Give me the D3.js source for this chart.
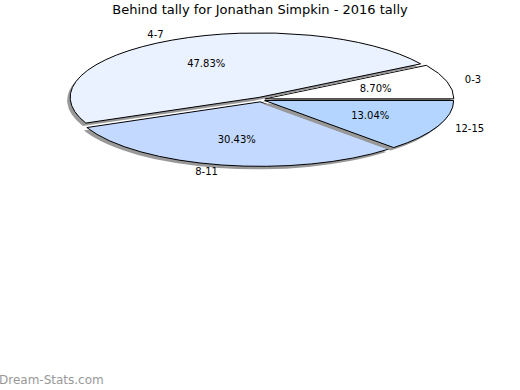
<!DOCTYPE html>
<html>
<head>
<meta charset="utf-8">
<script src="https://cdn.jsdelivr.net/npm/d3@7"></script>
<style>
  body { margin: 0; background: #fff; }
  text { font-family: "DejaVu Sans", sans-serif; }
</style>
</head>
<body>
<div id="chart"></div>
<script>
var labels = ["0-3", "4-7", "8-11", "12-15"];
var values = [2, 11, 7, 3];
var colors = ["#ffffff", "#eaf1ff", "#c4d9ff", "#b3d5ff"];

var width = 520, height = 390;
var cx = 261, cy = 99.5, rx = 189, ry = 64.5, explode = 4;

var svg = d3.select("#chart").append("svg")
  .attr("width", width)
  .attr("height", height);

svg.append("text")
  .attr("x", width / 2)
  .attr("y", 14)
  .attr("text-anchor", "middle")
  .style("font-size", "13px")
  .text("Behind tally for Jonathan Simpkin - 2016 tally");

var total = d3.sum(values);

// counter-clockwise from 3 o'clock
var pie = d3.pie()
  .sort(null)
  .startAngle(Math.PI / 2)
  .endAngle(Math.PI / 2 - 2 * Math.PI);

var arcs = pie(values);

var arc = d3.arc().innerRadius(0).outerRadius(rx);

function mid(d) { return (d.startAngle + d.endAngle) / 2; }

// explosion offset, flattened a bit vertically
function offset(d) {
  var a = mid(d);
  return [Math.sin(a) * explode, -Math.cos(a) * explode * 0.6];
}

var k = ry / rx;

function place(d, sx, sy) {
  var o = offset(d);
  return "translate(" + (cx + o[0] + sx) + "," + (cy + o[1] + sy) + ") scale(1," + k + ")";
}

// each slice: shadow then slice, so later shadows sit on earlier slices
var slice = svg.selectAll("g.slice")
  .data(arcs)
  .enter().append("g")
  .attr("class", "slice");

slice.append("path")
  .attr("d", arc)
  .attr("fill", "#999")
  .attr("transform", function(d) { return place(d, -3, 3); });

slice.append("path")
  .attr("d", arc)
  .attr("fill", function(d, i) { return colors[i]; })
  .attr("stroke", "#000")
  .attr("stroke-width", 1)
  .attr("vector-effect", "non-scaling-stroke")
  .attr("transform", function(d) { return place(d, 0, 0); });

// category labels outside
svg.selectAll("text.cat")
  .data(arcs)
  .enter().append("text")
  .attr("class", "cat")
  .attr("x", function(d) { return cx + Math.sin(mid(d)) * rx * 1.12; })
  .attr("y", function(d) { return cy - Math.cos(mid(d)) * ry * 1.14; })
  .attr("dy", "0.35em")
  .attr("text-anchor", function(d) { return Math.sin(mid(d)) > 0 ? "start" : "end"; })
  .style("font-size", "10px")
  .text(function(d, i) { return labels[i]; });

// percentages inside
svg.selectAll("text.pct")
  .data(arcs)
  .enter().append("text")
  .attr("class", "pct")
  .attr("x", function(d) { return cx + Math.sin(mid(d)) * rx * 0.63; })
  .attr("y", function(d) { return cy - Math.cos(mid(d)) * ry * 0.635; })
  .attr("dy", "0.35em")
  .attr("text-anchor", "middle")
  .style("font-size", "10px")
  .text(function(d) { return (d.value / total * 100).toFixed(2) + "%"; });

svg.append("text")
  .attr("x", -1)
  .attr("y", 384)
  .style("font-size", "12px")
  .attr("fill", "#999")
  .text("Dream-Stats.com");
</script>
</body>
</html>
